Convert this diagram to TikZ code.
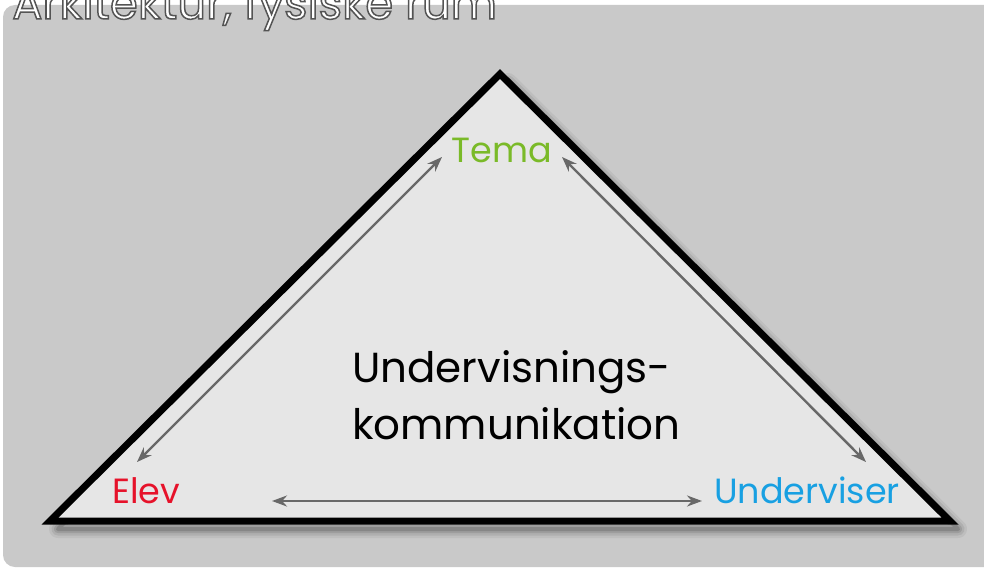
\documentclass[tikz,border=0pt]{standalone}
\usepackage{fontspec}
\setmainfont{Poppins}
\usetikzlibrary{arrows.meta,positioning,calc}
\definecolor{panel}{RGB}{201, 201, 201}
\definecolor{trifill}{RGB}{230, 230, 230}
\definecolor{temagreen}{RGB}{122, 186, 40}
\definecolor{elevred}{RGB}{230, 18, 42}
\definecolor{undblue}{RGB}{24, 160, 226}
\definecolor{arrowgray}{RGB}{104, 104, 104}
% hollow letters: fill white, stroke dark grey
\newcommand{\hollowtext}[1]{\special{pdf:literal direct 2 Tr 1.5 w 0.33 G}#1\special{pdf:literal direct 0 Tr}}
\tikzset{
  label/.style={inner sep=0pt, font=\fontsize{35}{40}\selectfont},
  relation/.style={draw=arrowgray, line width=2.4pt, {Stealth[length=15pt,width=11pt]}-{Stealth[length=15pt,width=11pt]}}
}

\begin{document}
\begin{tikzpicture}[x=1pt, y=-1pt]
  \useasboundingbox (0,0) rectangle (984,569);
  \clip (0,0) rectangle (984,569);
  \fill [panel] (3,5) [rounded corners=12pt] -- (3,567) -- (1000,567) -- (1000,5) -- cycle;

  \node [anchor=base west, inner sep=0pt, text=white, font=\fontsize{45}{50}\selectfont] (heading) at (12,19) {\hollowtext{Arkitektur, fysiske rum}};

  % triangle with soft shadow
  \foreach \w/\o in {18/0.05,13/0.08,8/0.1,4/0.14}
    \draw [black, opacity=\o, line width=\w, line join=round, shift={(8,8)}] (500,74) -- (950,521) -- (50,521) -- cycle;
  \filldraw [fill=trifill, draw=black, line width=7pt, line join=miter] (500,74) -- (950,521) -- (50,521) -- cycle;

  \node [label, text=temagreen, anchor=base] (tema) at (502,163) {Tema};
  \node [label, text=elevred, anchor=base west] (elev) at (112,503) {Elev};
  \node [label, text=undblue, anchor=base east] (underviser) at (900,503) {Underviser};
  \node [inner sep=0pt, anchor=north west, align=left, font=\fontsize{42}{57}\selectfont] (komm) at (352,350) {Undervisnings-\\kommunikation};

  \coordinate (temaL) at (442,157);
  \coordinate (temaR) at (562,157);
  \coordinate (elevT) at (137,462);
  \coordinate (elevR) at (272,501);
  \coordinate (undT) at (866,462);
  \coordinate (undL) at (702,501);

  \draw [relation] (temaL) -- (elevT);
  \draw [relation] (temaR) -- (undT);
  \draw [relation] (elevR) -- (undL);
\end{tikzpicture}
\end{document}
